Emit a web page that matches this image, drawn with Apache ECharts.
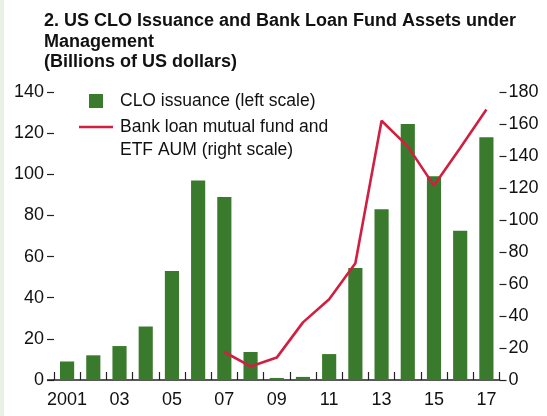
<!DOCTYPE html>
<html>
<head>
<meta charset="utf-8">
<script src="https://cdn.jsdelivr.net/npm/echarts@6/dist/echarts.min.js"></script>
<style>
html,body{margin:0;padding:0;background:#fff;}
#c{width:547px;height:416px;}
</style>
</head>
<body>
<div id="c"></div>
<script>
const categories = ['2001','02','03','04','05','06','07','08','09','10','11','12','13','14','15','16','17'];
const cloIssuance = [9, 12, 16.5, 26, 53, 97, 89, 13.6, 1, 1.5, 12.6, 54.5, 83, 124.5, 99, 72.5, 118];
const loanFundAUM = [null, null, null, null, null, null, 17.5, 8.5, 14, 36, 50.5, 73, 162, 146, 121.5, 145, 169];
const leftTicks = { min: 0, max: 140, interval: 20 };
const rightTicks = { min: 0, max: 180, interval: 20 };
const titleText = '2. US CLO Issuance and Bank Loan Fund Assets under\nManagement\n(Billions of US dollars)';
const legendBar = 'CLO issuance (left scale)';
const legendLine = 'Bank loan mutual fund and\nETF AUM (right scale)';

const FONT = '"Liberation Sans", Arial, sans-serif';
const green = '#3a7a2c';
const red = '#d01f40';
const chart = echarts.init(document.getElementById('c'), null, {renderer: 'canvas'});
chart.setOption({
  animation: false,
  backgroundColor: '#ffffff',
  title: {
    text: titleText,
    left: 39, top: 6,
    textStyle: { fontFamily: FONT, fontSize: 18, fontWeight: 'bold', color: '#111', lineHeight: 20.5 }
  },
  grid: { left: 54, right: 47.5, top: 92, bottom: 36, containLabel: false },
  xAxis: {
    type: 'category',
    data: categories,
    boundaryGap: true,
    axisLine: { show: true, lineStyle: { color: '#222', width: 1.5 } },
    axisTick: { show: true, inside: true, length: 8, interval: 0, lineStyle: { color: '#222', width: 1.2 } },
    axisLabel: { interval: 1, margin: 11, fontFamily: FONT, fontSize: 18, color: '#111' },
    splitLine: { show: false }
  },
  yAxis: [
    {
      type: 'value', min: leftTicks.min, max: leftTicks.max, interval: leftTicks.interval,
      axisLine: { show: false },
      axisTick: { show: true, inside: false, length: 7, lineStyle: { color: '#222', width: 1.2 } },
      axisLabel: { margin: 10, fontFamily: FONT, fontSize: 18, color: '#111' },
      splitLine: { show: false }
    },
    {
      type: 'value', position: 'right', min: rightTicks.min, max: rightTicks.max, interval: rightTicks.interval,
      axisLine: { show: false },
      axisTick: { show: true, inside: false, length: 7, lineStyle: { color: '#222', width: 1.2 } },
      axisLabel: { margin: 9, fontFamily: FONT, fontSize: 18, color: '#111' },
      splitLine: { show: false }
    }
  ],
  series: [
    {
      name: legendBar, type: 'bar', data: cloIssuance, yAxisIndex: 0,
      barCategoryGap: '46%', itemStyle: { color: green }
    },
    {
      name: 'Bank loan mutual fund and ETF AUM (right scale)', type: 'line', data: loanFundAUM, yAxisIndex: 1,
      symbol: 'none', connectNulls: false, lineStyle: { color: red, width: 2.6 }, z: 5
    }
  ],
  graphic: [
    { type: 'rect', left: 0, top: 0, shape: { width: 4, height: 416 }, style: { fill: '#e9f1e6' }, silent: true },
    { type: 'line', shape: { x1: 47, y1: 380, x2: 54, y2: 380 }, style: { stroke: '#222', lineWidth: 1.5 }, silent: true },
    { type: 'rect', shape: { x: 89, y: 94, width: 14, height: 14 }, style: { fill: green } },
    { type: 'text', x: 120, y: 101, style: { text: legendBar, font: '17.5px ' + FONT, fill: '#111', textVerticalAlign: 'middle' } },
    { type: 'line', shape: { x1: 79, y1: 127, x2: 113, y2: 127 }, style: { stroke: red, lineWidth: 2.6 } },
    { type: 'text', x: 120, y: 115, style: { text: legendLine, font: '17.5px ' + FONT, fill: '#111', lineHeight: 23.5 } }
  ]
});
</script>
</body>
</html>
